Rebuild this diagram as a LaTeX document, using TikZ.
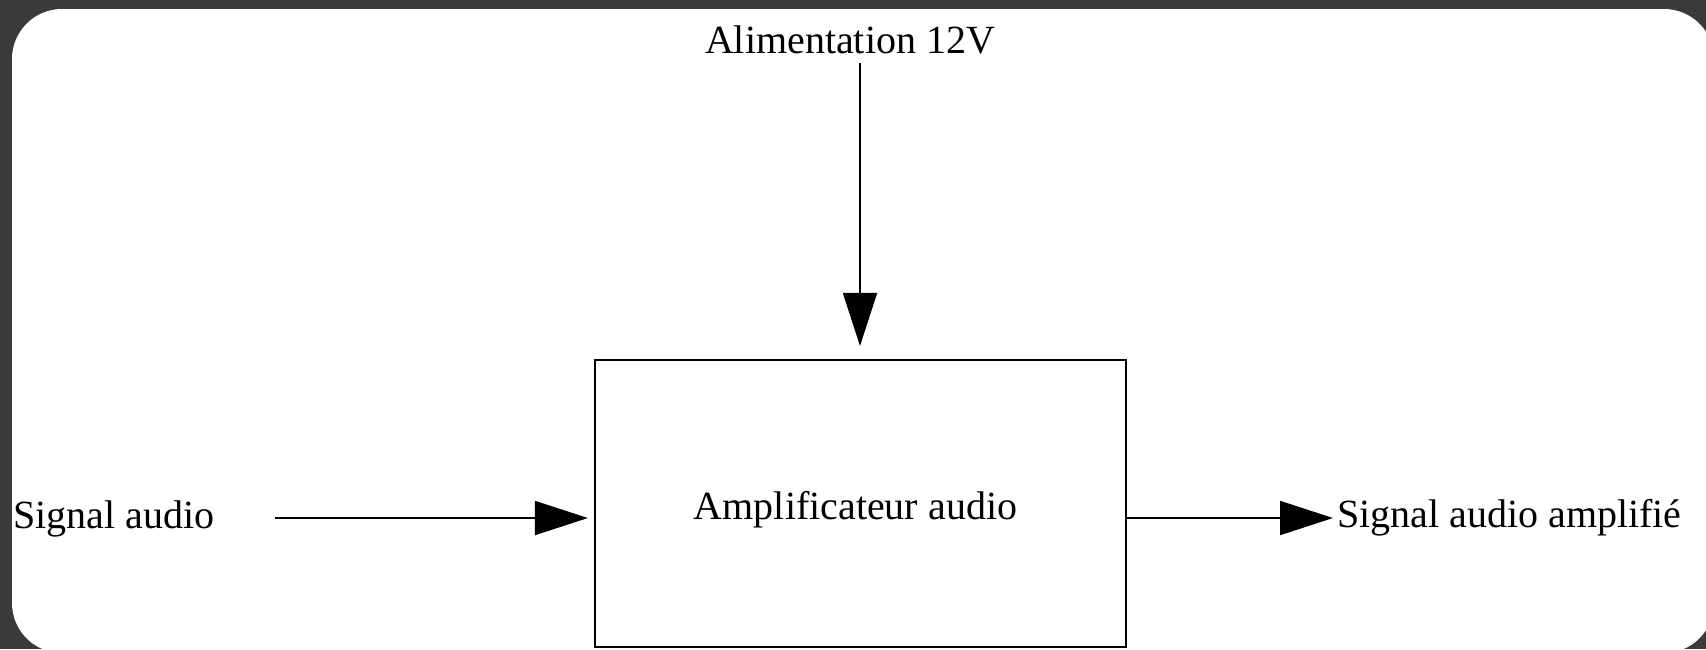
\documentclass[tikz,border=0pt]{standalone}
\usepackage{fontspec}
\setmainfont{Liberation Serif}
\usetikzlibrary{arrows.meta}
\definecolor{bgdark}{RGB}{58,58,58}
\tikzset{
  lbl/.style={inner sep=0pt, font=\fontsize{40}{48}\selectfont},
  blockbox/.style={draw, line width=2.2pt, minimum width=531pt, minimum height=287pt, inner sep=0pt, text height=41pt, text depth=9pt, font=\fontsize{40}{48}\selectfont},
  arr/.style={line width=2pt, -{Triangle[length=53pt, width=34pt]}}
}
\begin{document}
\begin{tikzpicture}[x=1pt, y=-1pt]
\useasboundingbox (0,0) rectangle (1706,649);
\clip (0,0) rectangle (1706,649);
\fill[bgdark] (0,0) rectangle (1706,649);
\fill[white, rounded corners=50pt] (12,9) rectangle (1714,653);

\node[blockbox] (amp) at (860.5,503.5) {\hspace*{-10pt}Amplificateur audio};
\node[lbl, anchor=base west] (in) at (13,528) {Signal audio};
\node[lbl, anchor=base west] (out) at (1337,527) {Signal audio amplifié};
\node[lbl, anchor=base] (pw) at (850,53) {Alimentation 12V};

\coordinate (inS) at (275,518);
\coordinate (pwS) at (860,63);

\draw[arr, shorten >=6pt] (inS) -- (inS -| amp.west);
\draw[arr, shorten >=13pt] (pwS) -- (pwS |- amp.north);
\draw[arr, shorten >=4pt] (inS -| amp.east) -- (inS -| out.west);
\end{tikzpicture}
\end{document}
